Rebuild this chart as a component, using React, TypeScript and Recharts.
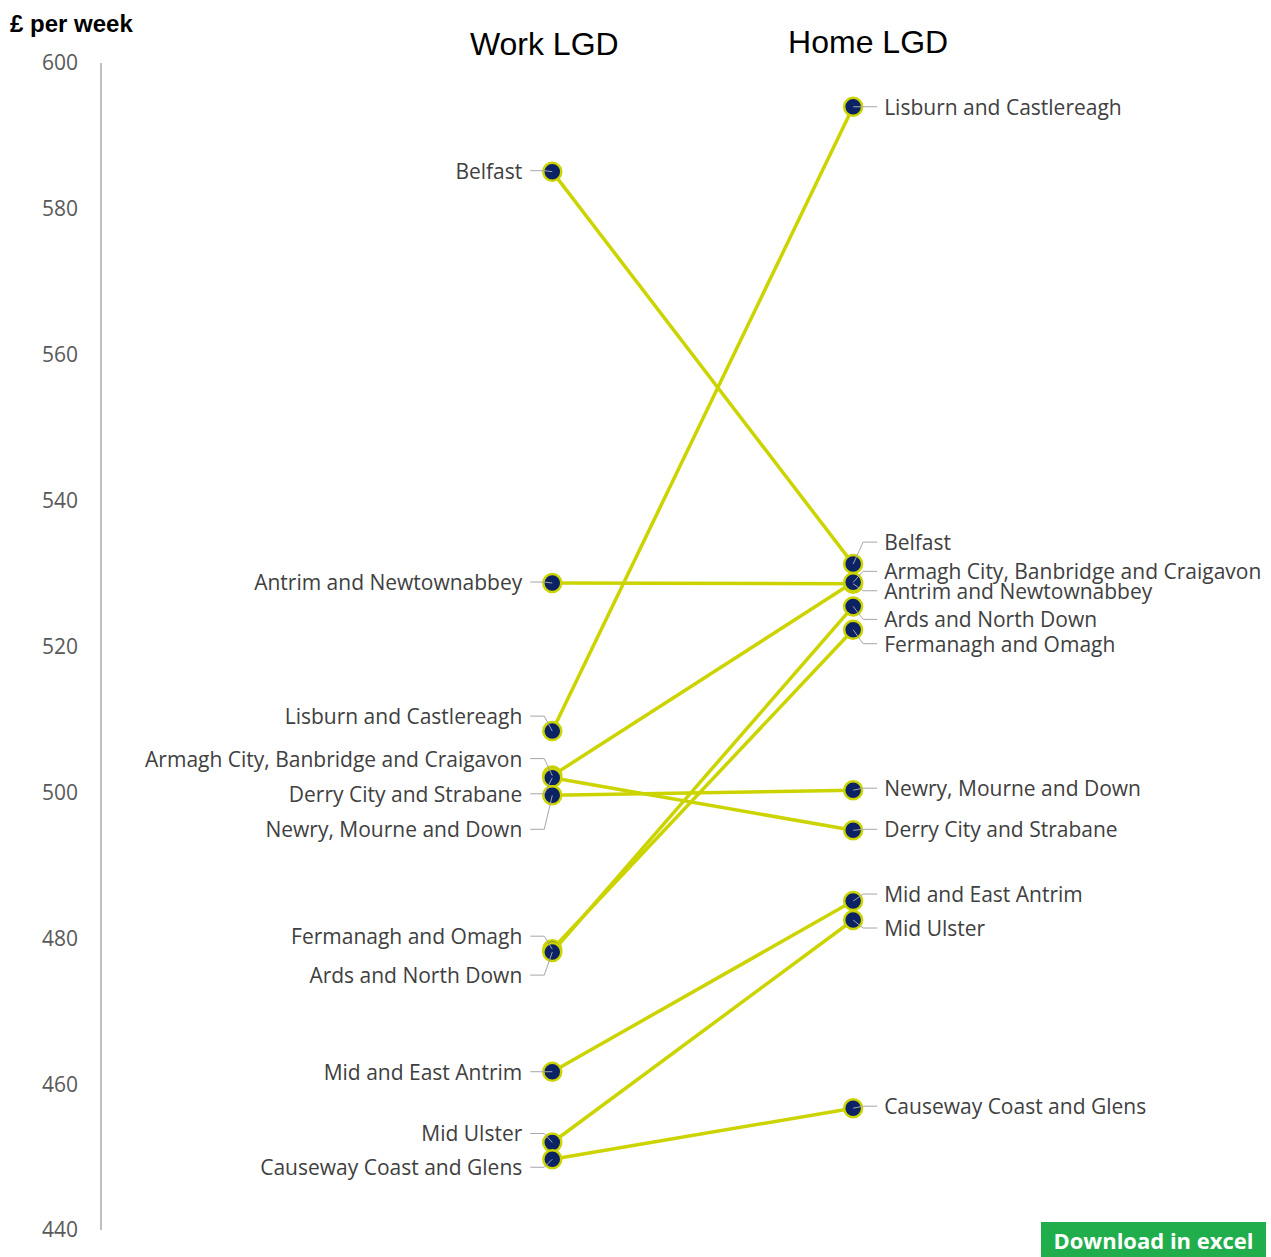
import { LineChart, Line, XAxis, YAxis } from 'recharts';

const sides = ['Work LGD', 'Home LGD'];
const lgds = [
  'Belfast',
  'Antrim and Newtownabbey',
  'Lisburn and Castlereagh',
  'Armagh City, Banbridge and Craigavon',
  'Derry City and Strabane',
  'Newry, Mourne and Down',
  'Fermanagh and Omagh',
  'Ards and North Down',
  'Mid and East Antrim',
  'Mid Ulster',
  'Causeway Coast and Glens',
];
const workValues = [585.1, 528.7, 508.4, 502.3, 502.0, 499.6, 478.5, 478.1, 461.7, 452.0, 449.7];
const homeValues = [531.3, 528.6, 594.0, 528.8, 494.8, 500.3, 522.3, 525.5, 485.1, 482.5, 456.7];
const yTicks = [440, 460, 480, 500, 520, 540, 560, 580, 600];

// label nudges (px) so overlapping names stay readable
const workLabelDy = [-1, -1, -15, -17, 16, 34, -13, 23, 0, -9, 8];
const homeLabelDy = [-22, 7, 0, -11, -1, -2, 14, 13, -7, 8, -2];

const LINE = '#ccd400';
const DOT = '#0b2265';
const LEADER = '#a6a6a6';
const TEXT = '#404040';

const data = sides.map((side, s) => {
  const row: Record<string, any> = { side, x: s };
  lgds.forEach((name, i) => {
    row[name] = s === 0 ? workValues[i] : homeValues[i];
  });
  return row;
});

const titleDx = [-8, 15];
const titleY = [44, 42];

function SideTick(props: any) {
  const { x, payload } = props;
  return (
    <text x={x + titleDx[payload.value]} y={titleY[payload.value]} textAnchor="middle" dominantBaseline="central"
      fontFamily="'Liberation Sans', Arial, sans-serif" fontSize={32} fill="#000">
      {sides[payload.value]}
    </text>
  );
}

function lgdLabel(i: number) {
  return (p: any) => {
    const px = p.x ?? p.viewBox?.x;
    const py = p.y ?? p.viewBox?.y;
    if (px == null || py == null) return null;
    const work = p.index === 0;
    const ly = py + (work ? workLabelDy[i] : homeLabelDy[i]);
    const pts = work
      ? `${px - 22},${ly} ${px - 8},${ly} ${px},${py}`
      : `${px},${py} ${px + 10},${ly} ${px + 24},${ly}`;
    return (
      <g key={`lbl-${i}-${p.index}`}>
        <polyline points={pts} fill="none" stroke={LEADER} strokeWidth={1} />
        <text x={work ? px - 30 : px + 31} y={ly} textAnchor={work ? 'end' : 'start'}
          dominantBaseline="central" fontFamily="'Open Sans', sans-serif" fontSize={21} fill={TEXT}>
          {lgds[i]}
        </text>
      </g>
    );
  };
}

export default function App() {
  return (
    <div style={{ position: 'absolute', left: 0, top: 0, width: 1271, height: 1257, background: '#fff' }}>
      <div style={{ position: 'absolute', left: 10, top: 9, fontFamily: "'Liberation Sans', Arial, sans-serif",
        fontWeight: 700, fontSize: 24, lineHeight: '30px', color: '#000' }}>
        £ per week
      </div>
      <LineChart width={1271} height={1257} data={data} margin={{ top: 33, right: 117, bottom: 27, left: 0 }}>
        <XAxis type="number" dataKey="x" orientation="top" domain={[-1.5, 2]} ticks={[0, 1]}
          axisLine={false} tickLine={false} height={30} tick={<SideTick />} />
        <YAxis domain={[440, 600]} ticks={yTicks} width={101} tickLine={false} tickMargin={17}
          axisLine={{ stroke: '#bfbfbf', strokeWidth: 2 }}
          tick={{ fontSize: 21, fill: '#595959', fontFamily: "'Open Sans', sans-serif" }} />
        {lgds.map((name, i) => (
          <Line key={name} dataKey={name} stroke={LINE} strokeWidth={3.5}
            dot={{ r: 9, fill: DOT, stroke: LINE, strokeWidth: 2.5 }}
            activeDot={false} label={lgdLabel(i)} isAnimationActive={false} />
        ))}
      </LineChart>
      <div style={{ position: 'absolute', left: 1041, top: 1222, width: 225, height: 35, background: '#1fae4b',
        color: '#fff', fontFamily: "'Open Sans', sans-serif", fontWeight: 700, fontSize: 22,
        lineHeight: '36px', textAlign: 'center', overflow: 'hidden' }}>
        Download in excel
      </div>
    </div>
  );
}
